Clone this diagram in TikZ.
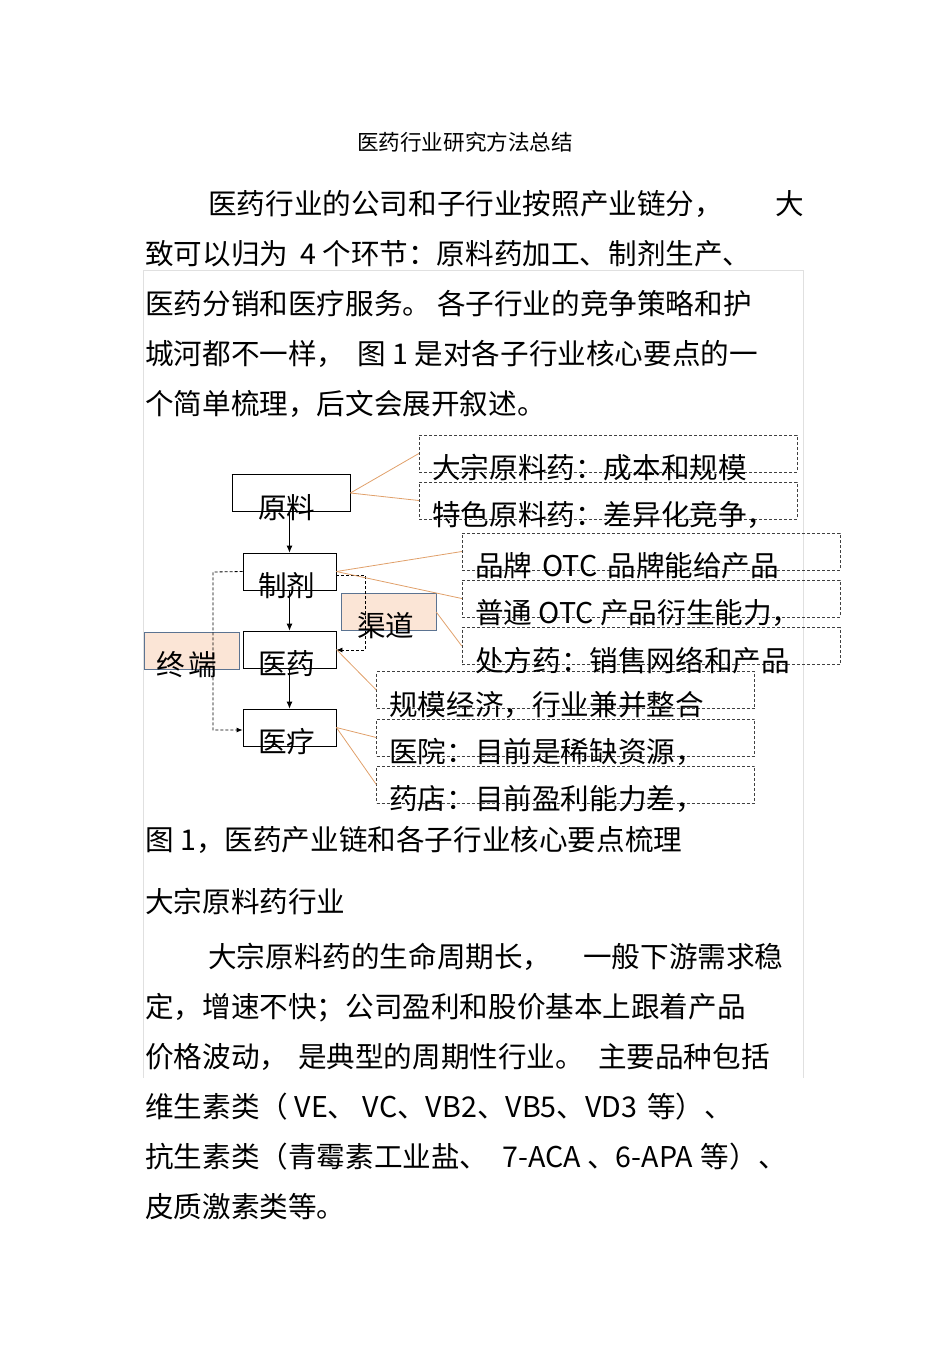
\documentclass[tikz,border=0pt]{standalone}
\usepackage{fontspec}
\setmainfont{Liberation Sans}
\newfontfamily\cjk{Noto Sans CJK SC}
\usetikzlibrary{arrows.meta}
\definecolor{peach}{HTML}{FBE5D6}
\definecolor{bluegray}{HTML}{5B7391}
\definecolor{orng}{HTML}{E0A06A}
\begin{document}
\begin{tikzpicture}[x=1pt,y=-1pt,
  txt/.style={anchor=base west,inner sep=0pt,font=\cjk\fontsize{28.6}{30}\selectfont},
  stage/.style={draw,thick,minimum width=93pt,minimum height=37pt,inner sep=0pt},
  side/.style={draw=bluegray,fill=peach,minimum width=95pt,minimum height=37pt,inner sep=0pt},
  dbox/.style={draw=black!75,densely dashed,minimum width=378pt,minimum height=37pt,inner sep=0pt},
  ol/.style={draw=orng,thick},
  dl/.style={densely dashed,thick,-{Latex[length=6pt,width=5pt]}},
  sl/.style={thick,-{Latex[length=7pt,width=6pt]}}]
\useasboundingbox (0,0) rectangle (950,1345);
% faint frame
\draw[black!12] (143,270) -- (803,270);
\draw[black!12] (143,270) -- (143,1078);
\draw[black!12] (803,270) -- (803,1078);
% title
\node[anchor=base,inner sep=0pt,font=\cjk\fontsize{21.6}{22}\selectfont] (title) at (465,150) {医药行业研究方法总结};
% paragraph
\node[txt] (p1) at (208,214) {医药行业的公司和子行业按照产业链分，};
\node[txt] (p1b) at (775,214) {大};
\node[txt] (p2) at (145,264) {致可以归为\hspace{12pt}4 个环节：原料药加工、制剂生产、};
\node[txt] (p3) at (145,314) {医药分销和医疗服务。\hspace{6pt}各子行业的竞争策略和护};
\node[txt] (p4) at (145,364) {城河都不一样，\hspace{12pt}图 1 是对各子行业核心要点的一};
\node[txt] (p5) at (145,414) {个简单梳理，后文会展开叙述。};
% dashed boxes
\node[dbox] (b1) at (608,453.5) {};
\node[dbox] (b2) at (608,500.5) {};
\node[dbox] (b3) at (651,551.5) {};
\node[dbox] (b4) at (651,598.5) {};
\node[dbox] (b5) at (651,646) {};
\node[dbox] (b6) at (565.5,690) {};
\node[dbox] (b7) at (565.5,737.5) {};
\node[dbox] (b8) at (565.5,784.5) {};
\node[txt] (t1) at (432,478) {大宗原料药：成本和规模};
\node[txt] (t2) at (432,525) {特色原料药：差异化竞争，};
\node[txt] (t3) at (475,576) {品牌\hspace{10pt}OTC\hspace{10pt}品牌能给产品};
\node[txt] (t4) at (475,623) {普通 OTC 产品衍生能力，};
\node[txt] (t5) at (475,671) {处方药：销售网络和产品};
\node[txt] (t6) at (389,715) {规模经济，行业兼并整合};
\node[txt] (t7) at (389,762) {医院：目前是稀缺资源，};
\node[txt] (t8) at (389,809) {药店：目前盈利能力差，};
% stages
\node[stage,minimum width=118pt] (yl) at (291,493) {};
\draw[very thick] (yl.north west) -- (yl.north east);
\node[stage] (zj) at (289.5,571.5) {};
\node[stage] (yy) at (289.5,649.5) {};
\node[stage] (yl2) at (289.5,727.5) {};
% side boxes
\node[side] (qd) at (388.5,612) {};
\node[side] (zd) at (192,650.5) {};
% labels of stages
\node[txt] at (258,518) {原料};
\node[txt] at (258,596) {制剂};
\node[txt] at (258,674) {医药};
\node[txt] at (258,752) {医疗};
\node[txt] at (357,636) {渠道};
\node[txt] at (156,675) {终\hspace{4pt}端};
% solid arrows
\draw[sl] (yl.south -| zj) -- (zj.north);
\draw[sl] (zj.south) -- (yy.north);
\draw[sl] (yy.south) -- (yl2.north);
% dashed loops
\coordinate (c1) at (213,572);
\coordinate (c2) at (213,730);
\draw[dl] (zj.west) -- (c1) -- (c2) -- (yl2.west |- c2);
\coordinate (c3) at (365,575);
\coordinate (c4) at (365,650);
\draw[dl] (zj.east |- c3) -- (c3) -- (c4) -- (yy.east |- c4);
% orange connectors
\draw[ol] (yl.east) -- (b1.west);
\draw[ol] (yl.east) -- (b2.west);
\draw[ol] (zj.east) -- (b3.west);
\draw[ol] (zj.east) -- (b4.west);
\draw[ol] (qd.east) -- (b5.west);
\draw[ol] (yy.east) -- (b6.west);
\draw[ol] (yl2.east) -- (b7.west);
\draw[ol] (yl2.east) -- (b8.west);
% caption and following text
\node[txt] (cap) at (145,850) {图 1，医药产业链和各子行业核心要点梳理};
\node[txt] (h) at (145,912) {大宗原料药行业};
\node[txt] (q1) at (208,967) {大宗原料药的生命周期长，};
\node[txt] (q1b) at (583,967) {一般下游需求稳};
\node[txt] (q2) at (145,1017) {定，增速不快；公司盈利和股价基本上跟着产品};
\node[txt] (q3) at (145,1067) {价格波动，\hspace{10pt}是典型的周期性行业。\hspace{14pt}主要品种包括};
\node[txt] (q4) at (145,1117) {维生素类（ VE、 VC、VB2、VB5、VD3\hspace{10pt}等）、};
\node[txt] (q5) at (145,1167) {抗生素类（青霉素工业盐、\hspace{14pt}7-ACA 、6-APA\hspace{8pt}等）、};
\node[txt] (q6) at (145,1217) {皮质激素类等。};
\end{tikzpicture}
\end{document}
